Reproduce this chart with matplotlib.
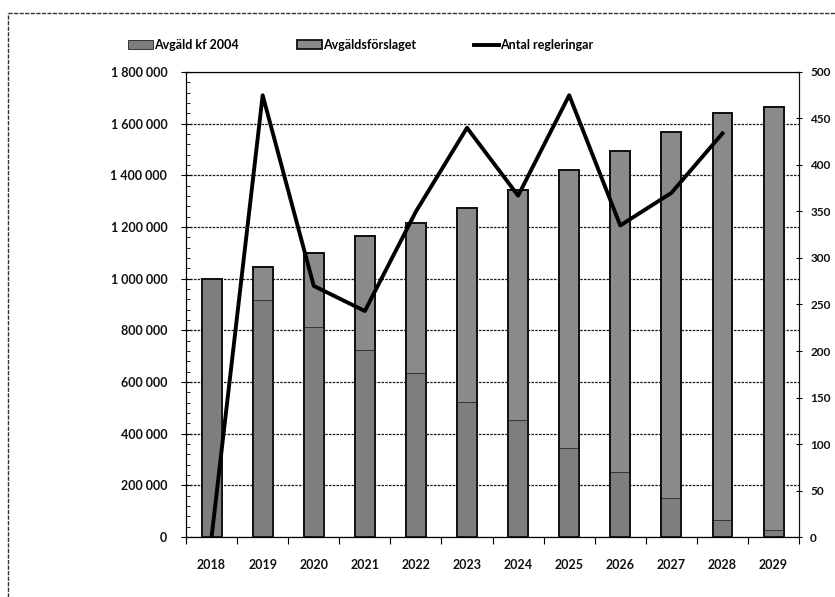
import numpy as np
import matplotlib
matplotlib.use("Agg")
import matplotlib.pyplot as plt
from matplotlib.lines import Line2D
from matplotlib.ticker import FuncFormatter, MultipleLocator

years = ["2018", "2019", "2020", "2021", "2022", "2023", "2024", "2025", "2026", "2027", "2028", "2029"]
avgald_forslaget = [1000000, 1045000, 1100000, 1165000, 1215000, 1275000, 1345000, 1420000,
                    1495000, 1568000, 1640000, 1665000]
avgald_kf2004 = [1000000, 917000, 813000, 724000, 635000, 523000, 453000, 345000,
                 250000, 150000, 66000, 27000]
antal_regleringar = [0, 475, 270, 243, 350, 440, 367, 475, 335, 370, 434]

plt.rcParams["font.family"] = ["Lato", "DejaVu Sans"]
FS = 9

fig = plt.figure(figsize=(8.35, 5.97), dpi=100)
# chart-area border of the scanned original (left and top edges)
W, H = 835, 597
fig.add_artist(Line2D([8 / W, 8 / W], [0, 1 - 13 / H], transform=fig.transFigure,
                      color="#333333", linewidth=1.0, linestyle=(0, (3, 1))))
fig.add_artist(Line2D([8 / W, 1], [1 - 13 / H, 1 - 13 / H], transform=fig.transFigure,
                      color="#333333", linewidth=1.0, linestyle=(0, (3, 1))))

ax = fig.add_axes([0.2228, 0.1005, 0.7342, 0.7789])
x = np.arange(len(years))
w = 0.39

b1 = ax.bar(x, avgald_forslaget, width=w, color="#8a8a8a", edgecolor="#111111", linewidth=1.3,
            zorder=3, label="Avgäldsförslaget")
b0 = ax.bar(x, avgald_kf2004, width=w, color="#7e7e7e", edgecolor="#333333", linewidth=0.7,
            zorder=3, label="Avgäld kf 2004")
# keep the outer outline on top of the inner bars
ax.bar(x, avgald_forslaget, width=w, facecolor="none", edgecolor="#111111", linewidth=1.3, zorder=3.5)

ax.set_xlim(-0.5, len(years) - 0.5)
ax.set_ylim(0, 1800000)
ax.yaxis.set_major_locator(MultipleLocator(200000))
ax.yaxis.set_minor_locator(MultipleLocator(40000))
ax.yaxis.set_major_formatter(FuncFormatter(lambda v, p: f"{int(v):,}".replace(",", " ")))
ax.set_xticks(x)
ax.set_xticklabels(years)
ax.set_xticks(np.arange(-0.5, len(years)), minor=True)
ax.tick_params(axis="x", which="major", length=0, pad=16, labelsize=FS)
ax.tick_params(axis="x", which="minor", length=5, direction="out", width=0.8)
ax.tick_params(axis="y", which="major", length=7, direction="inout", labelsize=FS, width=0.8, pad=10)
ax.tick_params(axis="y", which="minor", length=3, direction="in", width=0.6)
ax.grid(axis="y", color="#1a1a1a", linewidth=0.9, linestyle=(0, (2, 1)), zorder=1)
for s in ["left", "bottom", "right"]:
    ax.spines[s].set_color("#111111")
ax.spines["top"].set_linestyle((0, (2, 1)))
ax.spines["top"].set_color("#222222")
ax.spines["top"].set_linewidth(0.8)

ax2 = ax.twinx()
ax2.set_ylim(0, 500)
ax2.yaxis.set_major_locator(MultipleLocator(50))
ln, = ax2.plot(x[:len(antal_regleringar)], antal_regleringar, color="black", linewidth=2.8,
               zorder=4, label="Antal regleringar")
ax2.tick_params(axis="y", which="major", length=4, direction="inout", labelsize=FS - 0.5, pad=6, width=0.8)
ax2.spines["right"].set_color("#111111")

for t in ax.get_xticklabels() + ax.get_yticklabels() + ax2.get_yticklabels():
    t.set_fontweight("bold")
    t.set_color("#111111")

fig.legend(handles=[b0, b1, ln], loc="center left", bbox_to_anchor=(0.140, 1 - 45 / 597),
           ncol=3, frameon=False, columnspacing=4.6, handlelength=2.0,
           handletextpad=0.1, prop={"weight": "bold", "size": FS})

fig.savefig("out.png", dpi=100)
